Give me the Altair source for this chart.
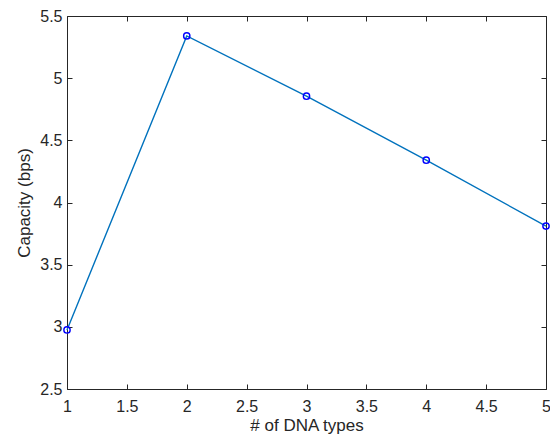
import altair as alt
import pandas as pd

dna_types = [1, 2, 3, 4, 5]
capacity = [2.975, 5.34, 4.855, 4.34, 3.81]

df = pd.DataFrame({"n": dna_types, "cap": capacity})

W, H = 479, 373
FONT = "Liberation Sans"
TXT = "#262626"

xs = alt.Scale(domain=[1, 5], nice=False, zero=False)
ys = alt.Scale(domain=[2.5, 5.5], nice=False, zero=False)
xvals = [1, 1.5, 2, 2.5, 3, 3.5, 4, 4.5, 5]
yvals = [2.5, 3, 3.5, 4, 4.5, 5, 5.5]

base = alt.Chart(df)

line = base.mark_line(color="#0072BD", strokeWidth=1.4).encode(
    x=alt.X("n:Q", scale=xs, title="# of DNA types",
            axis=alt.Axis(orient="bottom", values=xvals, ticks=False, tickSize=0, format="~g",
                          labelFlush=False, labelOverlap=False,
                          labelPadding=9, titlePadding=3, domain=False, grid=False)),
    y=alt.Y("cap:Q", scale=ys, title="Capacity (bps)",
            axis=alt.Axis(orient="left", values=yvals, ticks=False, tickSize=0, format="~g",
                          labelFlush=False, labelOverlap=False,
                          labelPadding=5, titlePadding=6, domain=False, grid=False)),
)

pts = base.mark_point(color="#0000FF", filled=False, size=40, strokeWidth=1.4, opacity=1).encode(
    x=alt.X("n:Q", scale=xs, title=None,
            axis=alt.Axis(orient="top", offset=-H, values=xvals, labels=False,
                          tickSize=5, domain=False, grid=False)),
    y=alt.Y("cap:Q", scale=ys, title=None,
            axis=alt.Axis(orient="right", offset=-W, values=yvals, labels=False,
                          tickSize=5, domain=False, grid=False)),
)

ghost = base.mark_point(opacity=0).encode(
    x=alt.X("n:Q", scale=xs, title=None,
            axis=alt.Axis(orient="bottom", offset=-H, values=xvals, labels=False,
                          tickSize=5, domain=False, grid=False)),
    y=alt.Y("cap:Q", scale=ys, title=None,
            axis=alt.Axis(orient="left", offset=-W, values=yvals, labels=False,
                          tickSize=5, domain=False, grid=False)),
)

chart = (
    alt.layer(line, pts, ghost)
    .resolve_axis(x="independent", y="independent")
    .properties(
        width=W, height=H,
        autosize=alt.AutoSizeParams(type="none"),
        padding={"left": 59, "top": 8, "right": 4, "bottom": 46},
    )
    .configure(background="white")
    .configure_view(stroke="#262626", strokeWidth=1)
    .configure_axis(
        labelFont=FONT, titleFont=FONT, labelFontSize=16, titleFontSize=17,
        labelColor=TXT, titleColor=TXT, tickColor=TXT, titleFontWeight="normal",
        tickWidth=1,
    )
)

chart.save("out.html", embed_options={"renderer": "svg", "actions": False})
